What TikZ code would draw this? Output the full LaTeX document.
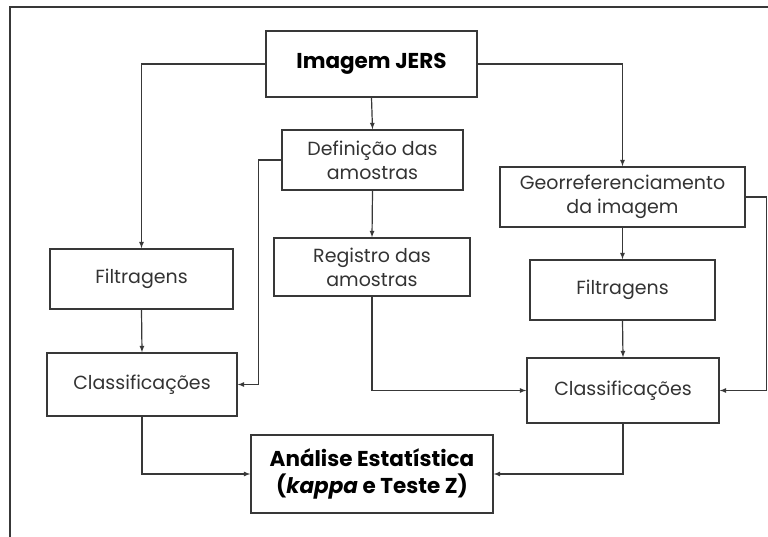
\documentclass[tikz,border=0pt]{standalone}
\usepackage{fontspec}
\setmainfont{Poppins}
\usepackage{tikz}
\definecolor{line gray}{rgb}{0.22, 0.22, 0.22}
\definecolor{text gray}{rgb}{0.2, 0.2, 0.2}

\begin{document}
\begin{tikzpicture}[x=1pt, y=-1pt, >=latex,
		box/.style={draw=line gray, line width=1.4pt, rectangle, align=center, text=text gray, font=\fontsize{19}{24}\selectfont, inner sep=0pt},
		bigbox/.style={box, text=black, font=\fontsize{21.5}{27}\selectfont\bfseries},
		flow/.style={->, draw=line gray, line width=1.2pt}]
			\useasboundingbox (0, 0) rectangle (768, 537);
			% outer frame (cut at right and bottom)
			\draw[line gray, line width=1.2pt] (768, 7) -- (10, 7) -- (10, 537);
			% centre column
			\node[bigbox, minimum width=211, minimum height=66] (imagem) at (371.5, 64) {Imagem JERS};
			\node[box, minimum width=181, minimum height=60] (defin) at (372.5, 160) {Definição das\\amostras};
			\node[box, minimum width=196, minimum height=58] (registro) at (372, 267) {Registro das\\amostras};
			\node[bigbox, minimum width=242, minimum height=78] (analise) at (372, 474) {Análise Estatística\\(\textit{kappa} e Teste Z)};
			% left column
			\node[box, minimum width=183, minimum height=60] (filtroA) at (141.5, 279) {Filtragens};
			\node[box, minimum width=190, minimum height=63] (classA) at (142, 384.5) {Classificações};
			% right column
			\node[box, minimum width=245, minimum height=60] (geo) at (622.5, 197) {Georreferenciamento\\da imagem};
			\node[box, minimum width=185, minimum height=60] (filtroB) at (622.5, 290) {Filtragens};
			\node[box, minimum width=192, minimum height=65] (classB) at (623, 390.5) {Classificações};
			% connectors
			\draw[flow] (imagem.west) -| (filtroA.north);
			\draw[flow] (imagem.south) -- (defin.north);
			\draw[flow] (imagem.east) -| (geo.north);
			\draw[flow] (defin.south) -- (registro.north);
			\draw[flow] (defin.west) -- ++(-23, 0) |- (classA.east);
			\draw[flow] (filtroA.south) -- (classA.north);
			\draw[flow] (registro.south) |- (classB.west);
			\draw[flow] (geo.east) -- ++(21, 0) |- (classB.east);
			\draw[flow] (geo.south) -- (filtroB.north);
			\draw[flow] (filtroB.south) -- (classB.north);
			\draw[flow] (classA.south) |- (analise.west);
			\draw[flow] (classB.south) |- (analise.east);
		\end{tikzpicture}
\end{document}
